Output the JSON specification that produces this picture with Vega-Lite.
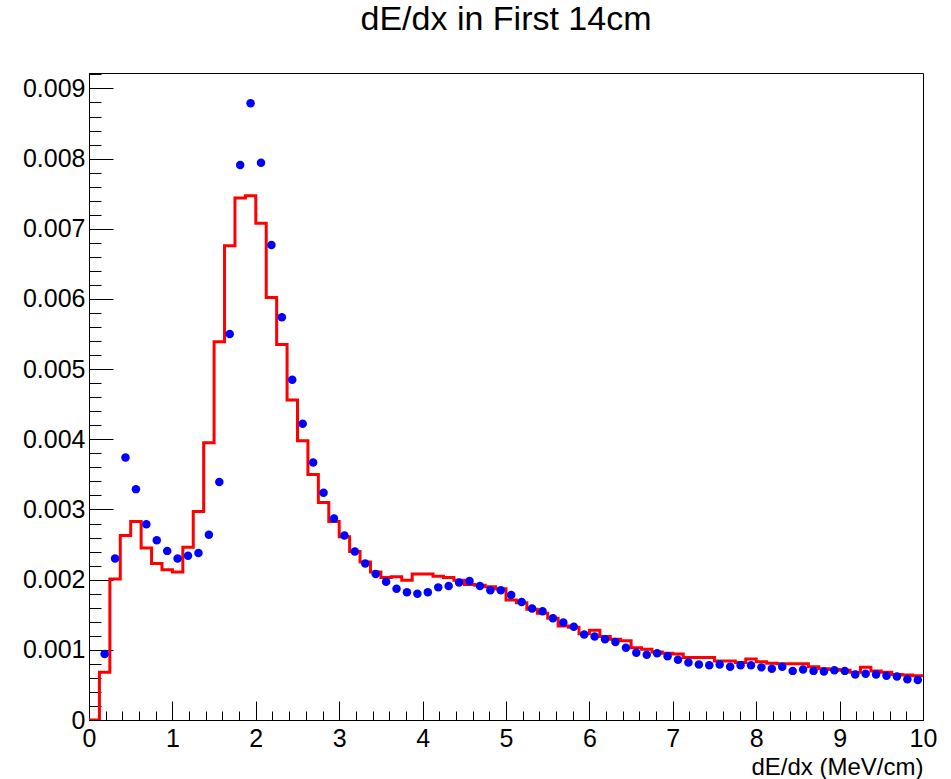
{
  "$schema": "https://vega.github.io/schema/vega-lite/v6.json",
  "width": 834,
  "height": 647,
  "autosize": "none",
  "padding": {"left": 89, "top": 73, "right": 28, "bottom": 59},
  "background": "white",
  "config": {
    "view": {"stroke": "black", "strokeWidth": 1},
    "font": "Liberation Sans",
    "axis": {"labelFont": "Liberation Sans", "titleFont": "Liberation Sans", "labelColor": "black", "titleColor": "black", "tickColor": "black", "domainColor": "black", "grid": false}
  },
  "title": {"text": "dE/dx in First 14cm", "fontSize": 34, "font": "Liberation Sans", "fontWeight": "normal", "color": "black", "anchor": "middle", "offset": 36},
  "datasets": {
    "hist": [
      {"x": 0, "y": 0}, {"x": 0.125, "y": 0.00068}, {"x": 0.25, "y": 0.00201}, {"x": 0.375, "y": 0.00263},
      {"x": 0.5, "y": 0.00283}, {"x": 0.625, "y": 0.00245}, {"x": 0.75, "y": 0.00223}, {"x": 0.875, "y": 0.00214},
      {"x": 1.0, "y": 0.00211}, {"x": 1.125, "y": 0.00246}, {"x": 1.25, "y": 0.00297}, {"x": 1.375, "y": 0.00395},
      {"x": 1.5, "y": 0.00539}, {"x": 1.625, "y": 0.00676}, {"x": 1.75, "y": 0.00744}, {"x": 1.875, "y": 0.00747},
      {"x": 2.0, "y": 0.00708}, {"x": 2.125, "y": 0.00602}, {"x": 2.25, "y": 0.00535}, {"x": 2.375, "y": 0.00456},
      {"x": 2.5, "y": 0.00398}, {"x": 2.625, "y": 0.0035}, {"x": 2.75, "y": 0.0031}, {"x": 2.875, "y": 0.00283},
      {"x": 3.0, "y": 0.00261}, {"x": 3.125, "y": 0.0024}, {"x": 3.25, "y": 0.00225}, {"x": 3.375, "y": 0.00211},
      {"x": 3.5, "y": 0.00203}, {"x": 3.625, "y": 0.00204}, {"x": 3.75, "y": 0.00199}, {"x": 3.875, "y": 0.00208},
      {"x": 4.0, "y": 0.00208}, {"x": 4.125, "y": 0.00205}, {"x": 4.25, "y": 0.00203}, {"x": 4.375, "y": 0.00199},
      {"x": 4.5, "y": 0.00193}, {"x": 4.625, "y": 0.00192}, {"x": 4.75, "y": 0.0019}, {"x": 4.875, "y": 0.00187},
      {"x": 5.0, "y": 0.00171}, {"x": 5.125, "y": 0.00167}, {"x": 5.25, "y": 0.00158}, {"x": 5.375, "y": 0.00152},
      {"x": 5.5, "y": 0.00145}, {"x": 5.625, "y": 0.00134}, {"x": 5.75, "y": 0.00132}, {"x": 5.875, "y": 0.00123},
      {"x": 6.0, "y": 0.00128}, {"x": 6.125, "y": 0.00119}, {"x": 6.25, "y": 0.00115}, {"x": 6.375, "y": 0.00113},
      {"x": 6.5, "y": 0.00103}, {"x": 6.625, "y": 0.00101}, {"x": 6.75, "y": 0.00097}, {"x": 6.875, "y": 0.00095},
      {"x": 7.0, "y": 0.00094}, {"x": 7.125, "y": 0.00089}, {"x": 7.25, "y": 0.00089}, {"x": 7.375, "y": 0.00089},
      {"x": 7.5, "y": 0.00084}, {"x": 7.625, "y": 0.00084}, {"x": 7.75, "y": 0.00082}, {"x": 7.875, "y": 0.00087},
      {"x": 8.0, "y": 0.00083}, {"x": 8.125, "y": 0.00081}, {"x": 8.25, "y": 0.0008}, {"x": 8.375, "y": 0.0008},
      {"x": 8.5, "y": 0.0008}, {"x": 8.625, "y": 0.00076}, {"x": 8.75, "y": 0.00073}, {"x": 8.875, "y": 0.00072},
      {"x": 9.0, "y": 0.00071}, {"x": 9.125, "y": 0.00068}, {"x": 9.25, "y": 0.00075}, {"x": 9.375, "y": 0.0007},
      {"x": 9.5, "y": 0.00068}, {"x": 9.625, "y": 0.00065}, {"x": 9.75, "y": 0.00064}, {"x": 9.875, "y": 0.00063},
      {"x": 10.0, "y": 0.00063}
    ],
    "pts": [
      {"x": 0.1875, "y": 0.00094}, {"x": 0.3125, "y": 0.0023}, {"x": 0.4375, "y": 0.00374}, {"x": 0.5625, "y": 0.00329},
      {"x": 0.6875, "y": 0.00279}, {"x": 0.8125, "y": 0.00256}, {"x": 0.9375, "y": 0.00241}, {"x": 1.0625, "y": 0.0023},
      {"x": 1.1875, "y": 0.00234}, {"x": 1.3125, "y": 0.00238}, {"x": 1.4375, "y": 0.00264}, {"x": 1.5625, "y": 0.00339},
      {"x": 1.6875, "y": 0.0055}, {"x": 1.8125, "y": 0.00791}, {"x": 1.9375, "y": 0.00879}, {"x": 2.0625, "y": 0.00794},
      {"x": 2.1875, "y": 0.00677}, {"x": 2.3125, "y": 0.00574}, {"x": 2.4375, "y": 0.00485}, {"x": 2.5625, "y": 0.00422},
      {"x": 2.6875, "y": 0.00367}, {"x": 2.8125, "y": 0.00324}, {"x": 2.9375, "y": 0.00287}, {"x": 3.0625, "y": 0.00263},
      {"x": 3.1875, "y": 0.0024}, {"x": 3.3125, "y": 0.00223}, {"x": 3.4375, "y": 0.00208}, {"x": 3.5625, "y": 0.00197},
      {"x": 3.6875, "y": 0.00187}, {"x": 3.8125, "y": 0.00182}, {"x": 3.9375, "y": 0.0018}, {"x": 4.0625, "y": 0.00182},
      {"x": 4.1875, "y": 0.00189}, {"x": 4.3125, "y": 0.00191}, {"x": 4.4375, "y": 0.00196}, {"x": 4.5625, "y": 0.00198},
      {"x": 4.6875, "y": 0.00191}, {"x": 4.8125, "y": 0.00185}, {"x": 4.9375, "y": 0.00185}, {"x": 5.0625, "y": 0.00178},
      {"x": 5.1875, "y": 0.00168}, {"x": 5.3125, "y": 0.00159}, {"x": 5.4375, "y": 0.00155}, {"x": 5.5625, "y": 0.00145},
      {"x": 5.6875, "y": 0.00139}, {"x": 5.8125, "y": 0.00133}, {"x": 5.9375, "y": 0.00122}, {"x": 6.0625, "y": 0.00119},
      {"x": 6.1875, "y": 0.00115}, {"x": 6.3125, "y": 0.00111}, {"x": 6.4375, "y": 0.00103}, {"x": 6.5625, "y": 0.00096},
      {"x": 6.6875, "y": 0.00093}, {"x": 6.8125, "y": 0.00095}, {"x": 6.9375, "y": 0.00091}, {"x": 7.0625, "y": 0.00086},
      {"x": 7.1875, "y": 0.00082}, {"x": 7.3125, "y": 0.00079}, {"x": 7.4375, "y": 0.00078}, {"x": 7.5625, "y": 0.00079},
      {"x": 7.6875, "y": 0.00076}, {"x": 7.8125, "y": 0.00078}, {"x": 7.9375, "y": 0.00078}, {"x": 8.0625, "y": 0.00075},
      {"x": 8.1875, "y": 0.00073}, {"x": 8.3125, "y": 0.00076}, {"x": 8.4375, "y": 0.0007}, {"x": 8.5625, "y": 0.00072},
      {"x": 8.6875, "y": 0.0007}, {"x": 8.8125, "y": 0.00069}, {"x": 8.9375, "y": 0.00071}, {"x": 9.0625, "y": 0.0007},
      {"x": 9.1875, "y": 0.00065}, {"x": 9.3125, "y": 0.00066}, {"x": 9.4375, "y": 0.00065}, {"x": 9.5625, "y": 0.00063},
      {"x": 9.6875, "y": 0.00062}, {"x": 9.8125, "y": 0.00058}, {"x": 9.9375, "y": 0.00057}
    ]
  },
  "layer": [
    {
      "data": {"name": "hist"},
      "mark": {"type": "line", "interpolate": "step-after", "color": "#ff0000", "strokeWidth": 3, "strokeJoin": "miter", "clip": true},
      "encoding": {
        "x": {"field": "x", "type": "quantitative",
          "scale": {"domain": [0, 10], "nice": false, "zero": false},
          "axis": {"orient": "bottom", "values": [0, 1, 2, 3, 4, 5, 6, 7, 8, 9, 10], "tickSize": -19, "tickWidth": 1, "labelPadding": 25, "labelFontSize": 25, "labelFlush": false, "labelOverlap": false, "format": "d",
            "title": "dE/dx (MeV/cm)", "titleFontSize": 24, "titleFontWeight": "normal", "titleAnchor": "end", "titleAlign": "right", "titlePadding": 4, "domainWidth": 1}},
        "y": {"field": "y", "type": "quantitative",
          "scale": {"domain": [0, 0.00922], "nice": false, "zero": false},
          "axis": {"orient": "left", "values": [0, 0.001, 0.002, 0.003, 0.004, 0.005, 0.006, 0.007, 0.008, 0.009], "tickSize": -24, "tickWidth": 1, "labelPadding": 28, "labelFontSize": 25, "labelFlush": false, "labelOverlap": false, "format": "~g", "title": null, "domainWidth": 1}}
      }
    },
    {
      "data": {"name": "pts"},
      "mark": {"type": "circle", "color": "#0000ff", "size": 72, "opacity": 1},
      "encoding": {
        "x": {"field": "x", "type": "quantitative",
          "scale": {"domain": [0, 10], "nice": false, "zero": false},
          "axis": {"orient": "bottom", "values": [0.2, 0.4, 0.6, 0.8, 1.2, 1.4, 1.6, 1.8, 2.2, 2.4, 2.6, 2.8, 3.2, 3.4, 3.6, 3.8, 4.2, 4.4, 4.6, 4.8, 5.2, 5.4, 5.6, 5.8, 6.2, 6.4, 6.6, 6.8, 7.2, 7.4, 7.6, 7.8, 8.2, 8.4, 8.6, 8.8, 9.2, 9.4, 9.6, 9.8], "tickSize": -9, "tickWidth": 1, "labels": false, "domain": false, "title": null}},
        "y": {"field": "y", "type": "quantitative",
          "scale": {"domain": [0, 0.00922], "nice": false, "zero": false},
          "axis": {"orient": "left", "values": [0.0002, 0.0004, 0.0006, 0.0008, 0.0012, 0.0014, 0.0016, 0.0018, 0.0022, 0.0024, 0.0026, 0.0028, 0.0032, 0.0034, 0.0036, 0.0038, 0.0042, 0.0044, 0.0046, 0.0048, 0.0052, 0.0054, 0.0056, 0.0058, 0.0062, 0.0064, 0.0066, 0.0068, 0.0072, 0.0074, 0.0076, 0.0078, 0.0082, 0.0084, 0.0086, 0.0088, 0.0092], "tickSize": -12, "tickWidth": 1, "labels": false, "domain": false, "title": null}}
      }
    }
  ],
  "resolve": {"axis": {"x": "independent", "y": "independent"}}
}
